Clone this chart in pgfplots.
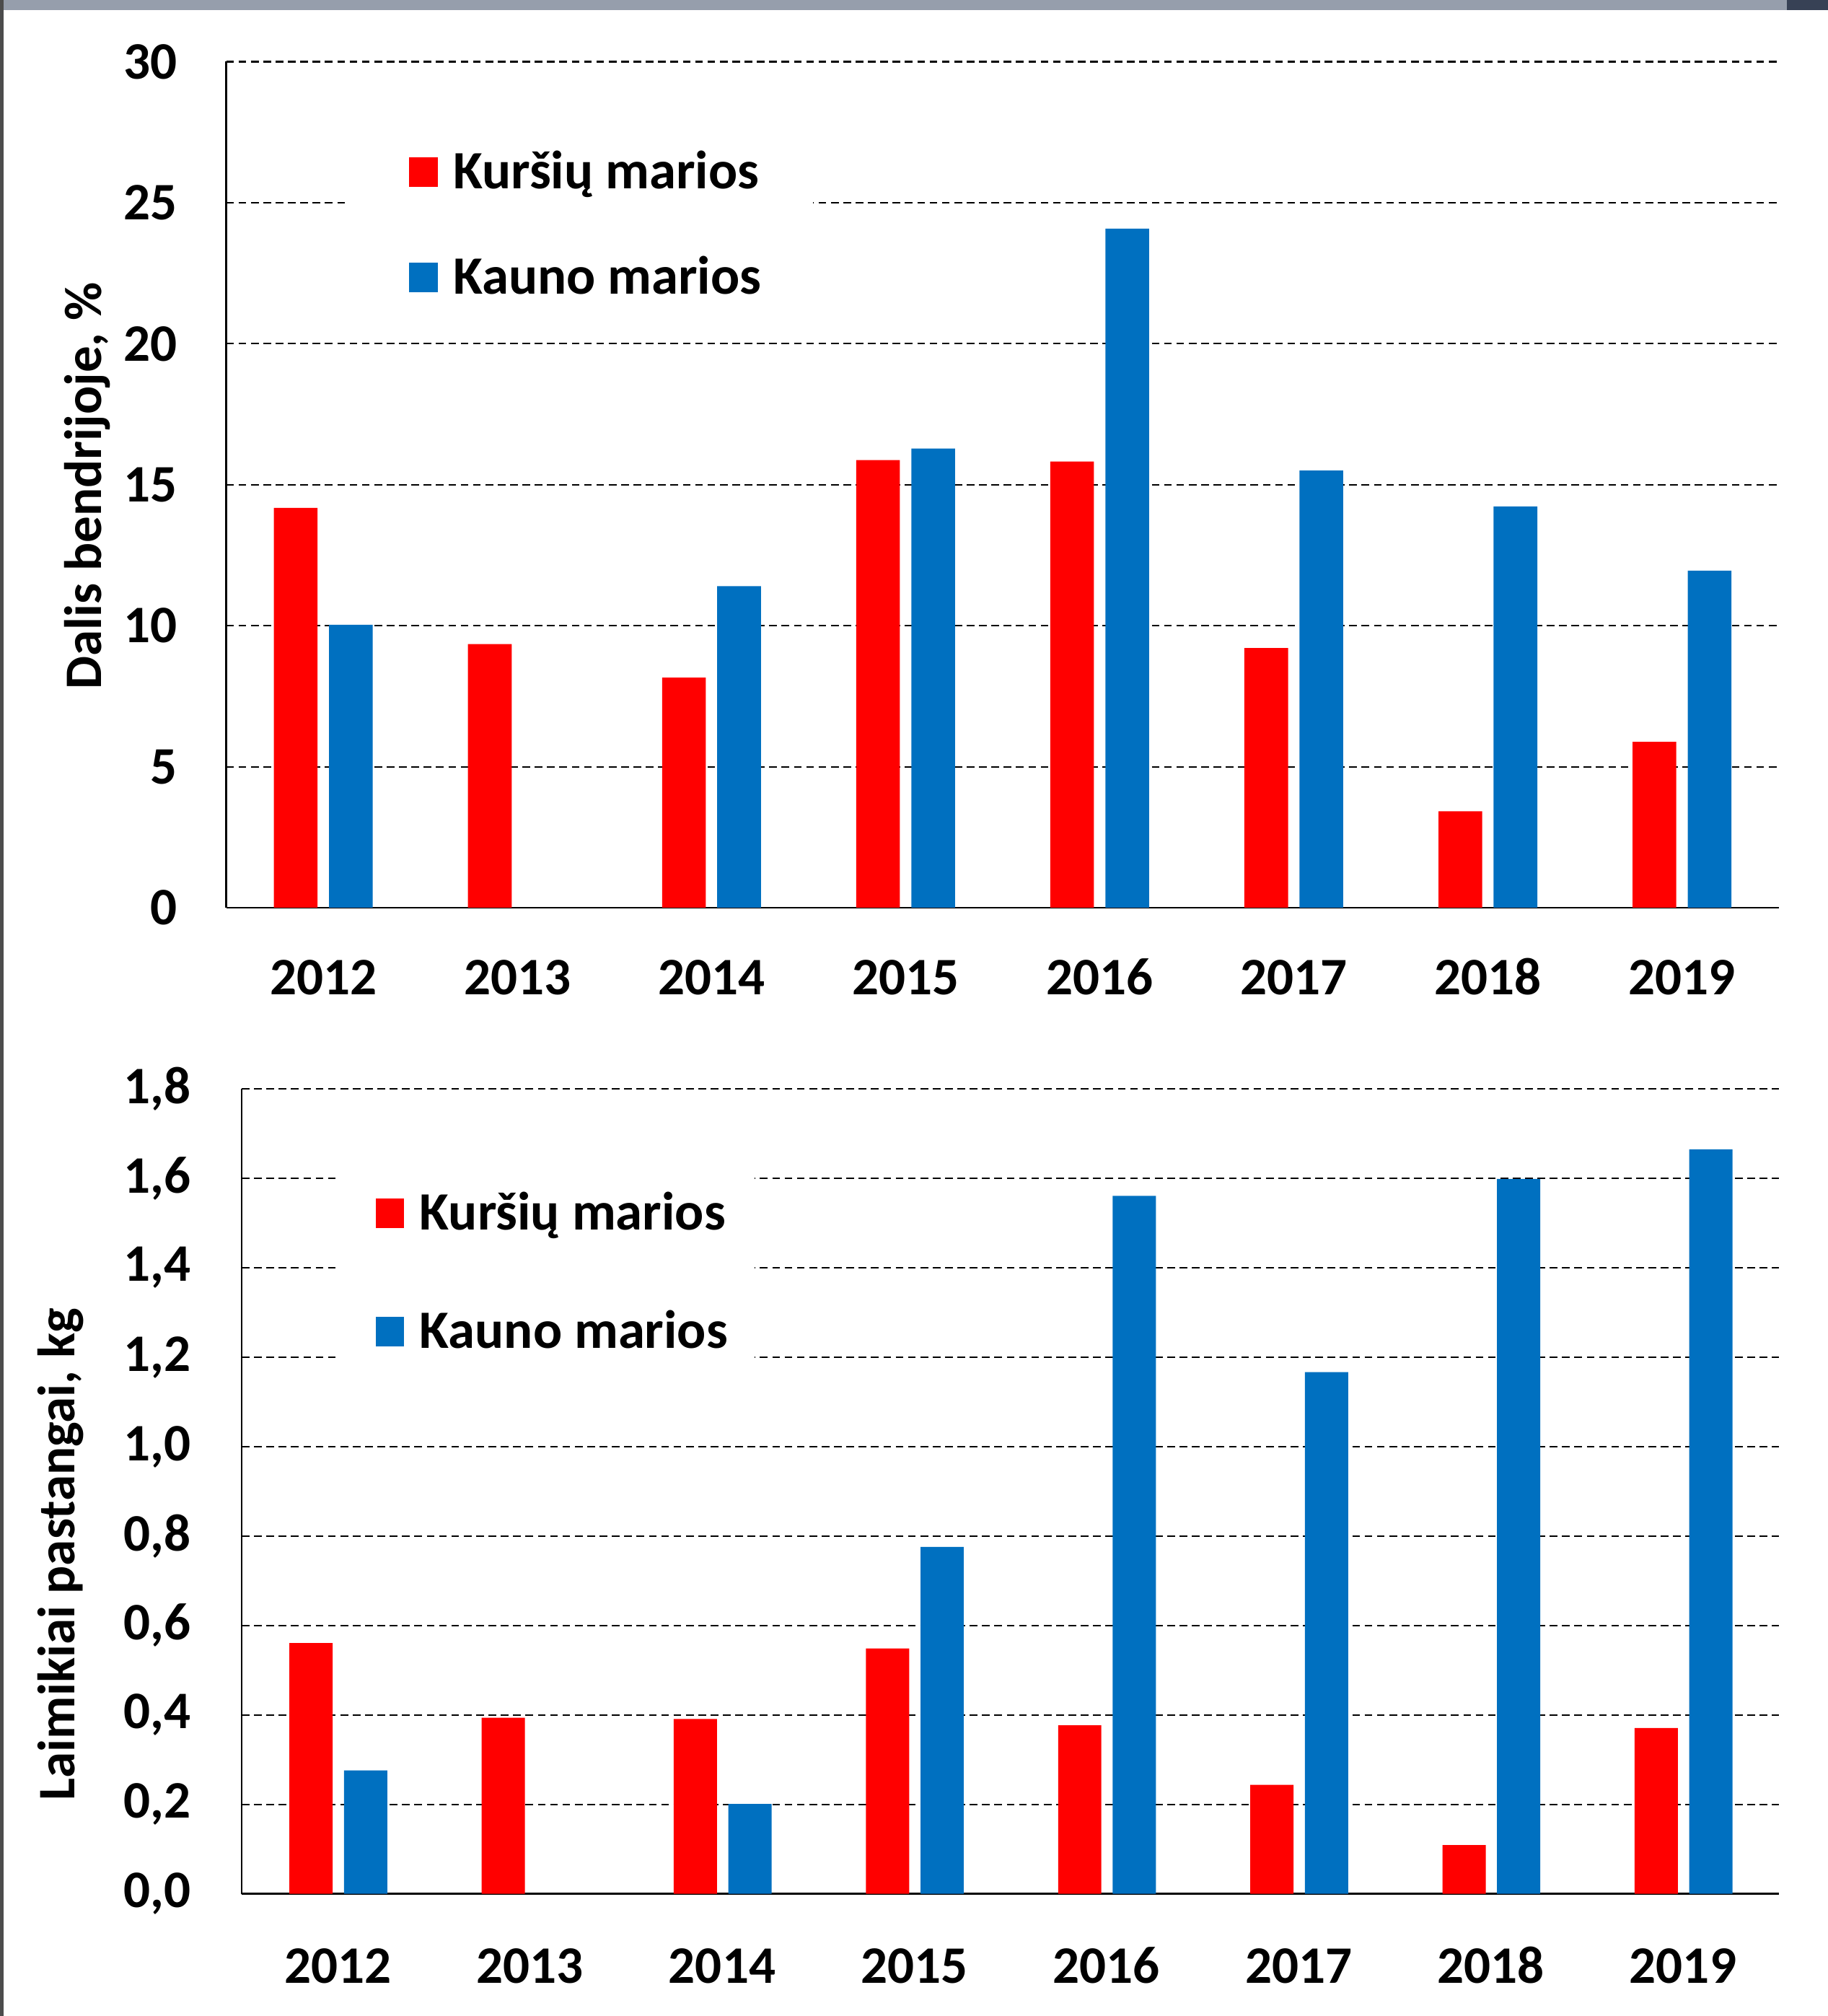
\documentclass[border=0pt]{standalone}
\usepackage{fontspec}
\setmainfont{Carlito}[Numbers=Lining]
\usepackage{pgfplots}
\pgfplotsset{compat=1.18}
\definecolor{kred}{RGB}{255,0,0}
\definecolor{kblue}{RGB}{0,112,192}
\definecolor{bandgray}{RGB}{150,158,172}
\definecolor{cornerdark}{RGB}{55,65,85}
\newcommand{\cf}{\fontsize{20.5}{24}\selectfont\bfseries}
\newcommand{\lf}{\fontsize{21}{24}\selectfont\bfseries}
\pgfplotsset{
  sq legend top/.style={legend image code/.code={\path (0pt,0pt); \fill[##1] (11pt,-5.75pt) rectangle (22pt,5.75pt);}},
  sq legend bot/.style={legend image code/.code={\path (0pt,0pt); \fill[##1] (10.5pt,-5.75pt) rectangle (21.5pt,5.75pt);}},
  common/.style={
    ybar, scale only axis,
    axis lines*=left,
    axis line style={black, line width=0.8pt},
    major tick length=0pt,
    xmin=-0.5, xmax=7.5, ymin=0,
    xtick={0,1,2,3,4,5,6,7},
    xticklabels={2012,2013,2014,2015,2016,2017,2018,2019},
    ymajorgrids,
    grid style={black, line width=0.6pt, dash pattern=on 3pt off 1.8pt},
    tick label style={font=\cf},
    label style={font=\cf},
    /pgf/number format/assume math mode=true,
    legend cell align=left,
    bar width=0.225,
  }
}
\begin{document}
\begin{tikzpicture}
\path[use as bounding box] (0pt,0pt) rectangle (711pt,784pt);
\fill[white] (0pt,0pt) rectangle (711pt,784pt);
\fill[bandgray] (0pt,780pt) rectangle (711pt,784pt);
\fill[cornerdark] (695pt,780pt) rectangle (711pt,784pt);
\fill[gray!60!black] (0pt,0pt) rectangle (1.4pt,784pt);
\begin{axis}[common,
  at={(88pt,431pt)}, anchor=south west,
  width=604pt, height=329pt,
  ymax=30, ytick={0,5,10,15,20,25,30},
  xticklabel style={anchor=base, yshift=-33.85pt},
  yticklabel style={anchor=east, xshift=-15.7pt},
  ylabel={Dalis bendrijoje, \%},
  ylabel style={at={(axis description cs:-0.0806,0.4985)}, anchor=base},
  legend style={draw=none, fill=white, at={(0.0762,0.9316)}, anchor=north west,
    inner xsep=14pt, inner ysep=9.5pt, row sep=19.8pt, font=\lf,
    nodes={inner xsep=6pt, inner ysep=0pt, text height=17.2pt, text depth=4pt}},
]
\addplot[fill=kred, draw=none, bar shift=-0.142, sq legend top] coordinates {
 (0,14.18) (1,9.35) (2,8.16) (3,15.87) (4,15.82) (5,9.21) (6,3.42) (7,5.88)};
\addplot[fill=kblue, draw=none, bar shift=0.142, sq legend top] coordinates {
 (0,10.03) (2,11.40) (3,16.28) (4,24.08) (5,15.50) (6,14.23) (7,11.95)};
\legend{Kuršių marios, Kauno marios}
\end{axis}
\begin{axis}[common,
  at={(94pt,47.5pt)}, anchor=south west,
  width=598pt, height=313pt,
  ymax=1.8, ytick={0,0.2,0.4,0.6,0.8,1.0,1.2,1.4,1.6,1.8},
  xticklabel style={anchor=base, yshift=-34.85pt},
  yticklabel style={anchor=east, xshift=-16.2pt,
    /pgf/number format/.cd, fixed, fixed zerofill, precision=1, use comma, assume math mode=true},
  ylabel={Laimikiai pastangai, kg},
  ylabel style={at={(axis description cs:-0.1087,0.4217)}, anchor=base},
  legend style={draw=none, fill=white, at={(0.0619,0.9073)}, anchor=north west,
    inner xsep=4.5pt, inner ysep=8.5pt, row sep=24.8pt, font=\lf,
    nodes={inner xsep=6pt, inner ysep=0pt, text height=17.2pt, text depth=4pt}},
]
\addplot[fill=kred, draw=none, bar shift=-0.139, sq legend bot] coordinates {
 (0,0.561) (1,0.394) (2,0.391) (3,0.549) (4,0.377) (5,0.244) (6,0.109) (7,0.371)};
\addplot[fill=kblue, draw=none, bar shift=0.145, sq legend bot] coordinates {
 (0,0.276) (2,0.201) (3,0.776) (4,1.561) (5,1.167) (6,1.599) (7,1.665)};
\legend{Kuršių marios, Kauno marios}
\end{axis}
\end{tikzpicture}
\end{document}
